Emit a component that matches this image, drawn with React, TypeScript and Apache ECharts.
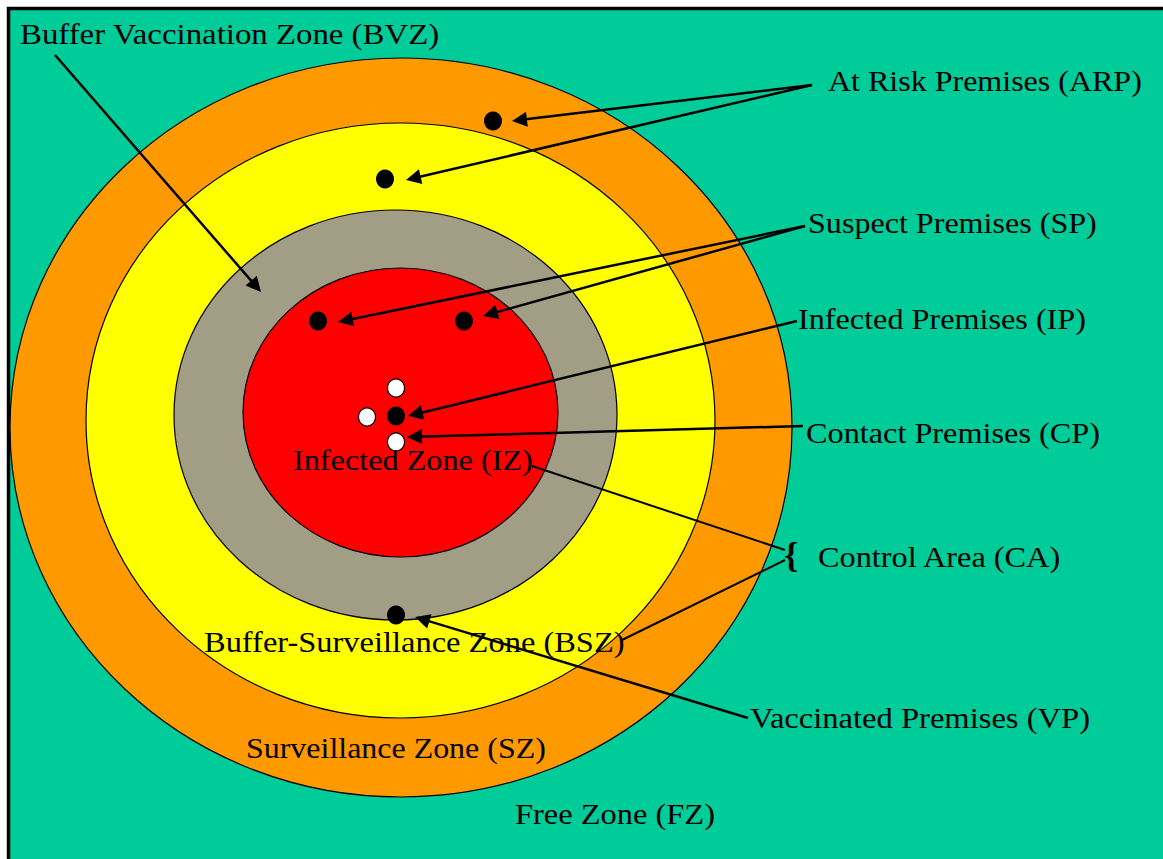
import React, { useEffect, useRef } from "react";
import * as echarts from "echarts";

const W = 1163;
const H = 859;

// Zones (outer to inner), diagram units = page pixels
const zoneNames = ["Surveillance Zone (SZ)", "Buffer Vaccination Zone (BVZ)", "Buffer-Surveillance Zone (BSZ)", "Infected Zone (IZ)"];
const zoneCx = [401, 400.5, 395.5, 400.5];
const zoneCy = [427.5, 420.5, 415, 412.5];
const zoneRx = [391, 314.5, 221.5, 157.5];
const zoneRy = [369.5, 297.5, 205, 144.5];
const zoneColors = ["#ff9900", "#ffff00", "#a29e86", "#ff0000"];

// Premises (dots)
const blackPremises = [
  [493, 121],
  [385, 179],
  [318, 321],
  [464, 321],
  [396, 416],
  [396, 615],
];
const whitePremises = [
  [396, 388],
  [367, 417],
  [396, 442],
];

// Arrows: from -> tip
const arrowFrom = [
  [55, 55],
  [812, 85],
  [812, 85],
  [805, 226],
  [805, 226],
  [797, 321],
  [803, 426],
  [748, 718],
];
const arrowTo = [
  [261, 292],
  [512, 121],
  [406, 180],
  [338, 322],
  [483, 316],
  [408, 416],
  [407, 437],
  [415, 617],
];

// Control Area bracket lines (no arrowheads)
const caFrom = [
  [785, 550],
  [785, 560],
];
const caTo = [
  [532, 466],
  [622, 640],
];

// Labels
const labelTexts = [
  "Buffer Vaccination Zone (BVZ)",
  "At Risk Premises (ARP)",
  "Suspect Premises (SP)",
  "Infected Premises (IP)",
  "Contact Premises (CP)",
  "Control Area (CA)",
  "Vaccinated Premises (VP)",
  "Infected Zone (IZ)",
  "Buffer-Surveillance Zone (BSZ)",
  "Surveillance Zone (SZ)",
  "Free Zone (FZ)",
];
const labelX = [20, 828, 808, 798, 806, 818, 750, 293, 204, 246, 515];
const labelRight = [440, 1142, 1097, 1086, 1100, 1062, 1090, 533, 625, 546, 715];
const labelY = [34, 82, 224, 320, 434, 558, 719, 461, 643, 748, 815];

const ARROW = 15;
const FONT_SIZE = 29;
const FONT_FAMILY = "Liberation Serif";

function shorten(from: number[], to: number[], d: number) {
  const dx = to[0] - from[0];
  const dy = to[1] - from[1];
  const len = Math.sqrt(dx * dx + dy * dy);
  return [to[0] - (dx / len) * d, to[1] - (dy / len) * d];
}

function textScale(text: string, target: number) {
  try {
    const cv = document.createElement("canvas");
    const ctx = cv.getContext("2d");
    if (!ctx) return 1.1;
    ctx.font = `${FONT_SIZE}px "${FONT_FAMILY}"`;
    const w = ctx.measureText(text).width;
    if (!w) return 1.1;
    return target / w;
  } catch (e) {
    return 1.1;
  }
}

export default function App() {
  const ref = useRef<HTMLDivElement>(null);
  useEffect(() => {
    if (!ref.current) return;
    const chart = echarts.init(ref.current, null, { renderer: "svg", width: W, height: H });
    const zoneData = zoneNames.map((n, i) => ({ name: n, value: [zoneCx[i], zoneCy[i], zoneRx[i], zoneRy[i]] }));
    const option: any = {
      animation: false,
      backgroundColor: "#ffffff",
      grid: { left: 0, right: 0, top: 0, bottom: 0 },
      xAxis: { type: "value", min: 0, max: W, show: false },
      yAxis: { type: "value", min: 0, max: H, inverse: true, show: false },
      graphic: [
        {
          type: "rect",
          z: -10,
          shape: { x: 8.5, y: 8.5, width: W + 20, height: H + 20 },
          style: { fill: "#00cc99", stroke: "#000", lineWidth: 3.5 },
          silent: true,
        },
        ...labelTexts.map((t, i) => ({
          type: "text",
          z: 100,
          x: labelX[i],
          y: labelY[i],
          scaleX: textScale(t, labelRight[i] - labelX[i]),
          silent: true,
          style: {
            text: t,
            x: 0,
            y: 0,
            fontSize: FONT_SIZE,
            fontFamily: FONT_FAMILY,
            fill: "#000",
            verticalAlign: "middle",
            align: "left",
          },
        })),
        {
          type: "text",
          z: 100,
          x: 784,
          y: 555,
          silent: true,
          style: {
            text: "{",
            x: 0,
            y: 0,
            fontSize: 36,
            fontWeight: "bold",
            fontFamily: FONT_FAMILY,
            fill: "#000",
            verticalAlign: "middle",
            align: "left",
          },
        },
      ],
      series: [
        {
          type: "custom",
          z: 1,
          silent: true,
          encode: { x: 0, y: 1 },
          data: zoneData,
          renderItem: (params: any, api: any) => {
            const c = api.coord([api.value(0), api.value(1)]);
            const s = api.size([api.value(2), api.value(3)]);
            return {
              type: "ellipse",
              shape: { cx: c[0], cy: c[1], rx: s[0], ry: s[1] },
              style: { fill: zoneColors[params.dataIndex], stroke: "#000", lineWidth: 1.2 },
            };
          },
        },
        {
          type: "lines",
          coordinateSystem: "cartesian2d",
          z: 3,
          silent: true,
          symbol: ["none", "triangle"],
          symbolSize: [0, ARROW],
          lineStyle: { color: "#000", width: 2.5, opacity: 1, curveness: 0 },
          data: arrowFrom.map((f, i) => ({ coords: [f, shorten(f, arrowTo[i], ARROW / 2)] })),
        },
        {
          type: "lines",
          coordinateSystem: "cartesian2d",
          z: 3,
          silent: true,
          symbol: ["none", "none"],
          lineStyle: { color: "#000", width: 2, opacity: 1, curveness: 0 },
          data: caFrom.map((f, i) => ({ coords: [f, caTo[i]] })),
        },
        {
          type: "scatter",
          z: 4,
          silent: true,
          symbol: "circle",
          symbolSize: [18, 19],
          itemStyle: { color: "#000", opacity: 1 },
          data: blackPremises,
        },
        {
          type: "scatter",
          z: 4,
          silent: true,
          symbol: "circle",
          symbolSize: [17, 18],
          itemStyle: { color: "#fff", borderColor: "#000", borderWidth: 1.2, opacity: 1 },
          data: whitePremises,
        },
      ],
    };
    chart.setOption(option);
    return () => chart.dispose();
  }, []);
  return <div ref={ref} style={{ position: "absolute", left: 0, top: 0, width: W, height: H, background: "#fff" }} />;
}
